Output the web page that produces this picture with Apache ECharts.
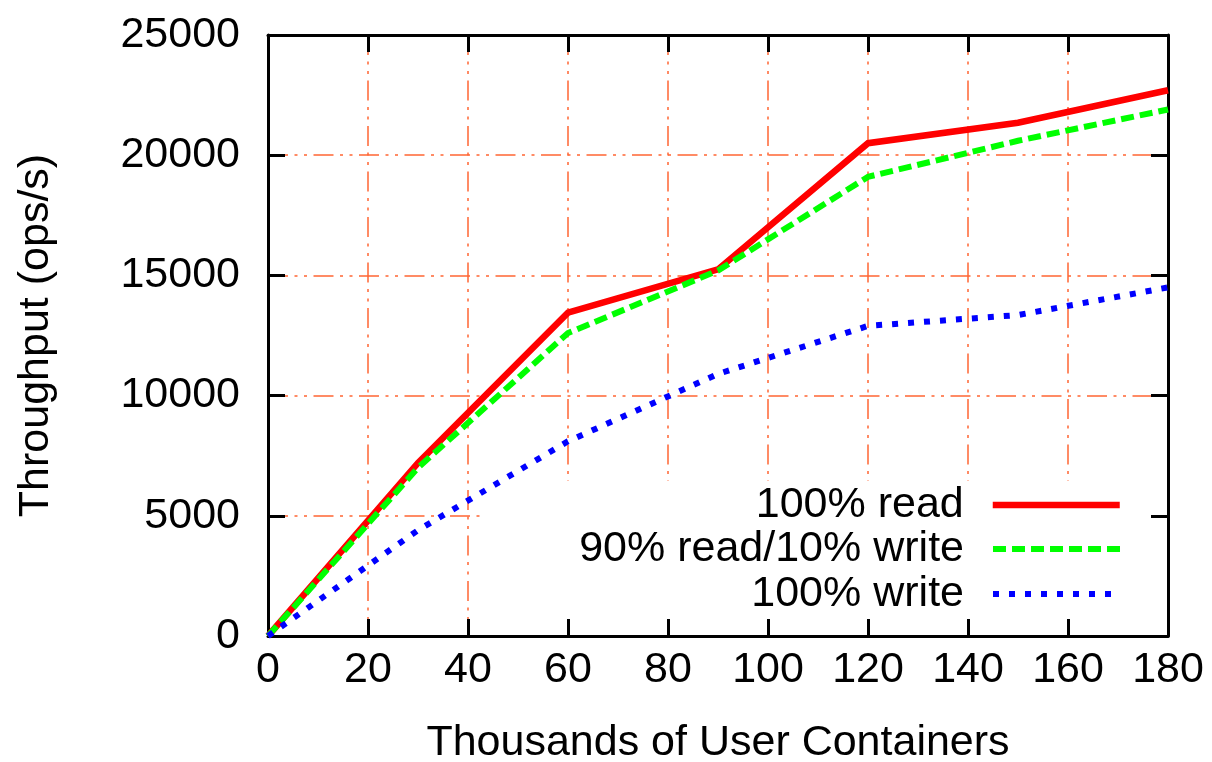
<!DOCTYPE html>
<html>
<head>
<meta charset="utf-8">
<script src="https://cdn.jsdelivr.net/npm/echarts@6/dist/echarts.min.js"></script>
<style>
  html, body { margin: 0; padding: 0; background: #fff; }
  #chart { width: 1212px; height: 762px; }
</style>
</head>
<body>
<div id="chart"></div>
<script>
// thousands of user containers
const containers = [0, 30, 60, 90, 120, 150, 180];
// throughput in ops/s
const read100 = [0, 7200, 13450, 15250, 20500, 21350, 22700];
const read90write10 = [0, 7000, 12600, 15200, 19100, 20600, 21900];
const write100 = [0, 4400, 8100, 10900, 12900, 13350, 14500];

const seriesNames = ["100% read", "90% read/10% write", "100% write"];

const font = "Liberation Sans, Arial, Helvetica, sans-serif";
const gridColor = "#ff6633";
const gridDash = [20, 6.5, 3, 6.5, 3, 6.5];

const styles = [
    { color: "#ff0000", width: 6.5, type: "solid" },
    { color: "#00ff00", width: 6, type: [13, 6] },
    { color: "#0000ff", width: 6, type: [6, 10] },
];

const pairs = (ys) => containers.map((x, i) => [x, ys[i]]);

const chart = echarts.init(document.getElementById("chart"), null, { renderer: "canvas" });

// black frame with inward ticks, drawn above the grid lines and key box
const frameAxis = (extra) => ({
    type: "value",
    z: 3,
    axisLine: { show: true, onZero: false, lineStyle: { color: "#000", width: 3 } },
    axisTick: { show: true, inside: true, length: 17, lineStyle: { color: "#000", width: 3 } },
    splitLine: { show: false },
    ...extra,
});

// axis that only draws the dash-dot grid lines
const gridAxis = (extra) => ({
    type: "value",
    z: 0,
    axisLine: { show: false },
    axisTick: { show: false },
    axisLabel: { show: false },
    splitLine: { show: true, lineStyle: { color: gridColor, width: 1.5, type: gridDash } },
    ...extra,
});

const legendFor = (i, top) => ({
    data: [seriesNames[i]],
    orient: "vertical",
    right: 89,
    top: top,
    padding: 0,
    align: "right",
    itemWidth: 127,
    itemHeight: 14,
    selectedMode: false,
    itemStyle: { opacity: 0 },
    lineStyle: { color: styles[i].color, width: styles[i].width, type: styles[i].type, cap: "butt" },
    textStyle: {
        fontFamily: font,
        fontSize: 43,
        lineHeight: 44,
        color: "#000",
        padding: [0, 24, 0, 0],
    },
});

const xRange = { min: 0, max: 180, interval: 20 };
const yRange = { min: 0, max: 25000, interval: 5000 };

chart.setOption({
    animation: false,
    backgroundColor: "#fff",
    grid: { left: 268, right: 44, top: 35, bottom: 126, outerBoundsMode: "none", containLabel: false },
    xAxis: [
        frameAxis({
            ...xRange,
            position: "bottom",
            name: "Thousands of User Containers",
            nameLocation: "middle",
            nameGap: 86,
            nameTextStyle: { fontFamily: font, fontSize: 43, color: "#000" },
            axisLabel: { fontFamily: font, fontSize: 43, color: "#000", margin: 13 },
        }),
        frameAxis({ ...xRange, position: "top", axisLabel: { show: false } }),
        gridAxis({ ...xRange, position: "bottom" }),
    ],
    yAxis: [
        frameAxis({
            ...yRange,
            position: "left",
            name: "Throughput (ops/s)",
            nameLocation: "middle",
            nameGap: 210,
            nameTextStyle: { fontFamily: font, fontSize: 43, color: "#000" },
            axisLabel: {
                fontFamily: font,
                fontSize: 43,
                color: "#000",
                margin: 28,
                formatter: (v) => String(v),
            },
        }),
        frameAxis({ ...yRange, position: "right", axisLabel: { show: false } }),
        gridAxis({ ...yRange, position: "left" }),
    ],
    // white box behind the key, hides the grid there
    graphic: [
        {
            type: "rect",
            z: 1,
            shape: { x: 481, y: 481, width: 687, height: 155 },
            style: { fill: "#fff" },
            silent: true,
        },
    ],
    legend: [legendFor(0, 483), legendFor(1, 527), legendFor(2, 572)],
    series: [read100, read90write10, write100].map((ys, i) => ({
        name: seriesNames[i],
        type: "line",
        data: pairs(ys),
        symbol: "none",
        z: 4 + i,
        lineStyle: { ...styles[i], cap: "butt", join: "miter" },
        itemStyle: { color: styles[i].color },
    })),
});
</script>
</body>
</html>
